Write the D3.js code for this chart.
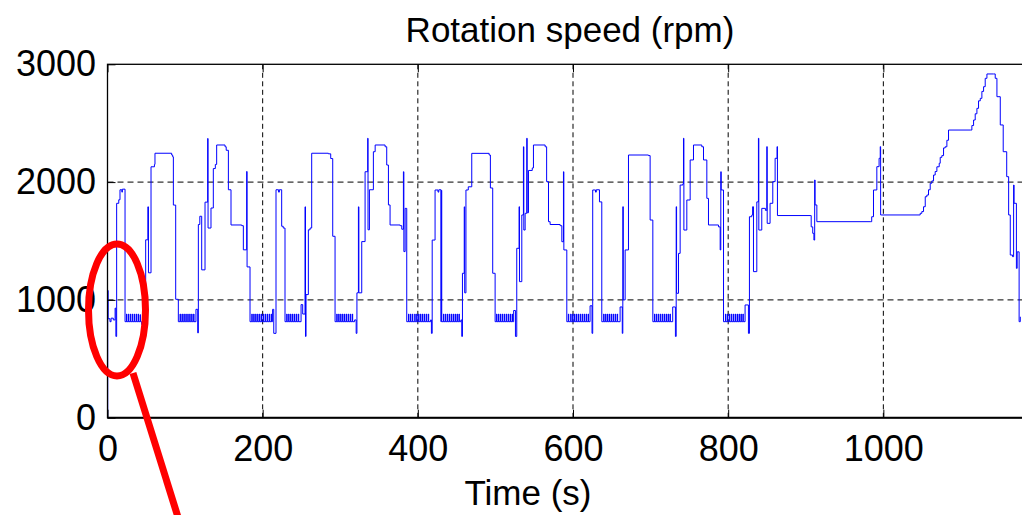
<!DOCTYPE html>
<html>
<head>
<meta charset="utf-8">
<script src="https://cdn.jsdelivr.net/npm/d3@7"></script>
<style>
  body { margin: 0; background: #fff; }
  svg { display: block; }
</style>
</head>
<body>
<div id="chart-area"></div>
<script>
// data: [time (s), rotation speed (rpm)]
// first urban cycle
const ece1 = [
  [0, 0], [0.3, 1080], [0.8, 840], [3.2, 815], [4.6, 845], [7.5, 830], [9.8, 930], [10.8, 690],
  [11.8, 1820], [14.5, 1850], [16.1, 1935], [18.5, 1915], [19.2, 1940], [22.6, 815],
  [24.5, 880], [25, 815], [27, 880], [27.5, 815], [29.5, 880], [30, 815], [32, 880], [32.5, 815],
  [34.5, 880], [35, 815], [37, 880], [37.5, 815], [39.5, 880], [40, 815], [42, 875], [42.5, 815],
  [44, 790], [49.2, 1510], [52, 1790], [52.8, 1230], [56.1, 2130], [60.5, 2150], [61.2, 2245],
  [82.7, 2230], [84, 2215], [84.9, 1805], [87.9, 1005], [91.3, 815],
  [93.5, 880], [94, 815], [96, 880], [96.5, 815], [98.5, 880], [99, 815], [101, 880], [101.5, 815],
  [103.5, 880], [104, 815], [106, 880], [106.5, 815], [108.5, 880], [109, 815], [111, 880], [111.5, 815],
  [114, 920], [116.3, 720], [117.1, 1640], [119, 1710], [121.4, 1255], [125.7, 1830], [129.1, 2370],
  [129.6, 1610], [133.4, 1780], [136.4, 2115], [139, 2150], [140.7, 2315], [151.5, 2300], [153, 2270],
  [155.8, 1935], [159.2, 1636], [173, 1630], [175.1, 1425], [179.4, 2090], [179.9, 1280], [183.7, 815],
  [186, 880], [186.5, 815], [188.5, 880], [189, 815], [191, 880], [191.5, 815], [193.5, 880], [194, 815]
];

// second urban cycle
const ece2 = [
  [196, 880], [196.5, 815], [198.5, 880], [199, 815], [201, 880], [201.5, 815], [203.5, 880], [204, 815],
  [206, 880], [206.5, 815], [208.5, 880], [209, 815], [211, 880], [211.5, 815],
  [212.8, 920], [214.3, 716], [217.2, 1935], [220.5, 1915], [221.5, 1935], [224.5, 1625], [226.5, 1610], [228.8, 815],
  [231, 880], [231.5, 815], [233.5, 880], [234, 815], [236, 880], [236.5, 815], [238.5, 880], [239, 815],
  [241, 880], [241.5, 815], [243.5, 880], [244, 815], [246, 880], [246.5, 815],
  [249.5, 960], [251.6, 880], [254.6, 1790], [255.2, 690], [255.9, 1045], [258.9, 1595], [261.1, 1610],
  [263.2, 2245], [284.7, 2240], [287.7, 2200], [290.3, 1540], [293.3, 815],
  [295.5, 880], [296, 815], [298, 880], [298.5, 815], [300.5, 880], [301, 815], [303, 880], [303.5, 815],
  [305.5, 880], [306, 815], [308, 880], [308.5, 815], [310.5, 880], [311, 815], [313, 880], [313.5, 815],
  [315.5, 880], [316, 815],
  [318.5, 830], [320.5, 716], [321.5, 1060], [323.4, 1790], [324, 1060], [327.7, 1495], [332, 2088],
  [335.4, 2372], [335.8, 1595], [337.6, 1935], [342.7, 2258], [345, 2315], [357.8, 2300], [359.9, 2145],
  [362.1, 1806], [364.2, 1636], [377.2, 1630], [379.3, 1600], [381.4, 2088], [382, 1410], [383.6, 1777],
  [385.7, 815],
  [388, 880], [388.5, 815], [390.5, 880], [391, 815], [393, 880], [393.5, 815]
];

// third urban cycle
const ece3 = [
  [396, 880], [396.5, 815], [398.5, 880], [399, 815], [401, 880], [401.5, 815], [403.5, 880], [404, 815],
  [406, 880], [406.5, 815], [408.5, 880], [409, 815], [411, 880], [411.5, 815], [413.5, 880], [414, 815],
  [416.5, 830], [417.5, 716], [418.5, 1508], [422.2, 1933], [426, 1915], [427, 1935], [429.8, 815],
  [430.2, 1930], [430.8, 815],
  [433, 880], [433.5, 815], [435.5, 880], [436, 815], [438, 880], [438.5, 815], [440.5, 880], [441, 815],
  [443, 880], [443.5, 815], [445.5, 880], [446, 815], [448, 880], [448.5, 815], [450.5, 880], [451, 815],
  [453, 880], [453.5, 815],
  [455.5, 830], [456.6, 690], [457.5, 1226], [459.8, 1790], [460.4, 1060], [462, 1933], [465, 1960],
  [469.5, 2244], [491.9, 2230], [493.5, 1950], [496.5, 1226], [499.6, 815],
  [501.5, 880], [502, 815], [504, 880], [504.5, 815], [506.5, 880], [507, 815], [509, 880], [509.5, 815],
  [511.5, 880], [512, 815], [514, 880], [514.5, 815], [516.5, 880], [517, 815], [519, 880], [519.5, 815],
  [521.5, 880], [522, 815],
  [523.5, 910], [525.8, 690], [527.5, 1438], [530.5, 1791], [531, 1155], [534, 1721], [536.1, 2300],
  [536.6, 1593], [538.3, 1735], [540.4, 2372], [540.9, 1740], [542.6, 2099], [547.5, 2120], [549, 2315],
  [564.1, 2300], [566, 2004], [568.4, 1664], [570.5, 1640], [583.4, 1630], [585.6, 1494], [587.7, 2088],
  [588.2, 1424], [592, 815],
  [594, 880], [594.5, 815]
];

// fourth urban cycle
const ece4 = [
  [597, 880], [597.5, 815], [599.5, 880], [600, 815], [602, 880], [602.5, 815], [604.5, 880], [605, 815],
  [607, 880], [607.5, 815], [609.5, 880], [610, 815], [612, 880], [612.5, 815], [614.5, 880], [615, 815],
  [617, 880], [617.5, 815], [619.5, 880], [620, 815],
  [622, 950], [624.5, 716], [625.4, 1933], [629, 1915], [630, 1935], [634.1, 1832], [637.1, 815],
  [639.5, 880], [640, 815], [642, 880], [642.5, 815], [644.5, 880], [645, 815], [647, 880], [647.5, 815],
  [649.5, 880], [650, 815], [652, 880], [652.5, 815], [654.5, 880], [655, 815], [657, 880], [657.5, 815],
  [660.7, 940], [663.5, 716], [664.2, 1791], [664.8, 1000], [667.2, 1424], [671.5, 2230], [697.3, 2225],
  [699.4, 1678], [702.9, 815],
  [705, 880], [705.5, 815], [707.5, 880], [708, 815], [710, 880], [710.5, 815], [712.5, 880], [713, 815],
  [715, 880], [715.5, 815], [717.5, 880], [718, 815], [720, 880], [720.5, 815], [722.5, 880], [723, 815],
  [725, 880], [725.5, 815],
  [728.5, 940], [732, 690], [733, 1791], [733.5, 1056], [736, 1395], [738.1, 1975], [741.5, 1985],
  [742.4, 2372], [742.9, 1593], [746.7, 1848], [751, 2188], [755.3, 2315], [766, 2300], [768.2, 2188],
  [772.5, 1862], [774.6, 1636], [787.5, 1620], [789.7, 1424], [790.5, 2088], [791, 1933], [794, 815]
];

// extra-urban part
const eudc = [
  [796.5, 880], [797, 815], [799, 880], [799.5, 815], [801.5, 880], [802, 815], [804, 880], [804.5, 815],
  [806.5, 880], [807, 815], [809, 880], [809.5, 815], [811.5, 880], [812, 815], [814, 880], [814.5, 815],
  [816.5, 880], [817, 815], [819, 880], [819.5, 815],
  [821.8, 957], [826.1, 716], [827.4, 1706], [830.4, 1720], [831.5, 1791], [832.6, 1240], [836.9, 1832],
  [839, 2372], [839.5, 1593], [843.3, 1777], [848, 1760], [849.8, 2301], [850.3, 1650], [854, 1820],
  [857.5, 2004], [860.5, 2202], [863, 2301], [863.5, 1716], [905.6, 1716], [907, 1620], [909, 1565],
  [910.5, 1508], [911.5, 2018], [912, 1806], [914.3, 1664], [983, 1664], [985, 1706], [987.3, 1933],
  [991.6, 2131], [994.5, 2202], [996, 2301], [996.5, 1721],
  [1047.5, 1735], [1049.6, 1750], [1051.8, 1791], [1054, 1876], [1056.1, 1890], [1058.2, 1935],
  [1060.4, 1990], [1062.5, 2010], [1064.7, 2060], [1066.8, 2090], [1069, 2130], [1072, 2160],
  [1073.3, 2210], [1075.4, 2225], [1077.6, 2290], [1079.7, 2300], [1081.9, 2355], [1084, 2442],
  [1112, 2442], [1114.1, 2480], [1116.3, 2527], [1118.4, 2580], [1120.6, 2626], [1122.7, 2690],
  [1124.9, 2711], [1127, 2770], [1129.2, 2810], [1131.3, 2881], [1133.5, 2918], [1142.1, 2918],
  [1144.2, 2881], [1146.4, 2725], [1150.7, 2485], [1154.5, 2258], [1159, 2046], [1161.5, 1721],
  [1163.6, 1381], [1166.5, 1367], [1167.9, 1975], [1168.5, 1820], [1171.5, 1268], [1172.5, 1408],
  [1175, 815], [1176.5, 857]
];

const xTicks = [0, 200, 400, 600, 800, 1000];
const yTicks = [0, 1000, 2000, 3000];
const titleText = "Rotation speed (rpm)";
const xLabelText = "Time (s)";

const WIDTH = 1022;
const HEIGHT = 515;
const FONT = "Liberation Sans, Arial, Helvetica, sans-serif";

const svg = d3.select("#chart-area").append("svg")
  .attr("width", WIDTH)
  .attr("height", HEIGHT)
  .style("background", "#fff");

// plot box
const margin = {top: 64.3, left: 107.5};
const graphWidth = 915.5;
const graphHeight = 353.4;

const graph = svg.append("g")
  .attr("transform", `translate(${margin.left}, ${margin.top})`);

// scales
const x = d3.scaleLinear().domain([0, 1180]).range([0, graphWidth]);
const y = d3.scaleLinear().domain([0, 3000]).range([graphHeight, 0]);

// grid
graph.append("g").selectAll("line")
  .data(xTicks.filter(d => d > 0))
  .enter().append("line")
    .attr("x1", d => x(d)).attr("x2", d => x(d))
    .attr("y1", 0).attr("y2", graphHeight)
    .attr("stroke", "#000").attr("stroke-width", 1)
    .attr("stroke-dasharray", "5,3.5");

graph.append("g").selectAll("line")
  .data(yTicks.filter(d => d > 0 && d < 3000))
  .enter().append("line")
    .attr("x1", 0).attr("x2", graphWidth)
    .attr("y1", d => y(d)).attr("y2", d => y(d))
    .attr("stroke", "#000").attr("stroke-width", 1)
    .attr("stroke-dasharray", "6,4");

// clip
svg.append("defs").append("clipPath").attr("id", "plot-clip")
  .append("rect").attr("width", graphWidth).attr("height", graphHeight);

const speed = [].concat(ece1, ece2, ece3, ece4, eudc);

const line = d3.line()
  .x(d => x(d[0]))
  .y(d => y(d[1]))
  .curve(d3.curveStepAfter);

graph.append("path")
  .datum(speed)
  .attr("clip-path", "url(#plot-clip)")
  .attr("fill", "none")
  .attr("stroke", "#0000ff")
  .attr("stroke-width", 1)
  .attr("d", line);

// axes
const fmt = d3.format("d");

const xAxisGroup = graph.append("g")
  .attr("transform", `translate(0, ${graphHeight})`)
  .call(d3.axisBottom(x).tickValues(xTicks).tickFormat(fmt)
    .tickSizeInner(-8).tickSizeOuter(0).tickPadding(18));

const xTopGroup = graph.append("g")
  .call(d3.axisTop(x).tickValues(xTicks).tickSizeInner(-8).tickSizeOuter(0).tickFormat(""));

const yAxisGroup = graph.append("g")
  .call(d3.axisLeft(y).tickValues(yTicks).tickFormat(fmt)
    .tickSizeInner(-8).tickSizeOuter(0).tickPadding(11.5));

[xAxisGroup, xTopGroup, yAxisGroup].forEach(g => {
  g.attr("font-size", 36).attr("font-family", FONT);
  g.select(".domain").remove();
  g.selectAll(".tick line").attr("stroke", "#000");
  g.selectAll(".tick text").attr("fill", "#000");
});

// frame
graph.append("rect")
  .attr("width", graphWidth)
  .attr("height", graphHeight)
  .attr("fill", "none")
  .attr("stroke", "#000")
  .attr("stroke-width", 1.3);

graph.append("line")
  .attr("x1", 0).attr("x2", graphWidth)
  .attr("y1", graphHeight).attr("y2", graphHeight)
  .attr("stroke", "#000").attr("stroke-width", 2);

// title and label
svg.append("text")
  .attr("x", 570)
  .attr("y", 42)
  .attr("font-size", 35)
  .attr("font-family", FONT)
  .attr("text-anchor", "middle")
  .text(titleText);

svg.append("text")
  .attr("x", 528)
  .attr("y", 505)
  .attr("font-size", 35)
  .attr("font-family", FONT)
  .attr("text-anchor", "middle")
  .text(xLabelText);

// red annotation
svg.append("ellipse")
  .attr("cx", 117)
  .attr("cy", 310)
  .attr("rx", 28.5)
  .attr("ry", 66)
  .attr("fill", "none")
  .attr("stroke", "#ff0000")
  .attr("stroke-width", 7);

svg.append("line")
  .attr("x1", 133).attr("y1", 373)
  .attr("x2", 182).attr("y2", 530)
  .attr("stroke", "#ff0000")
  .attr("stroke-width", 7);
</script>
</body>
</html>
